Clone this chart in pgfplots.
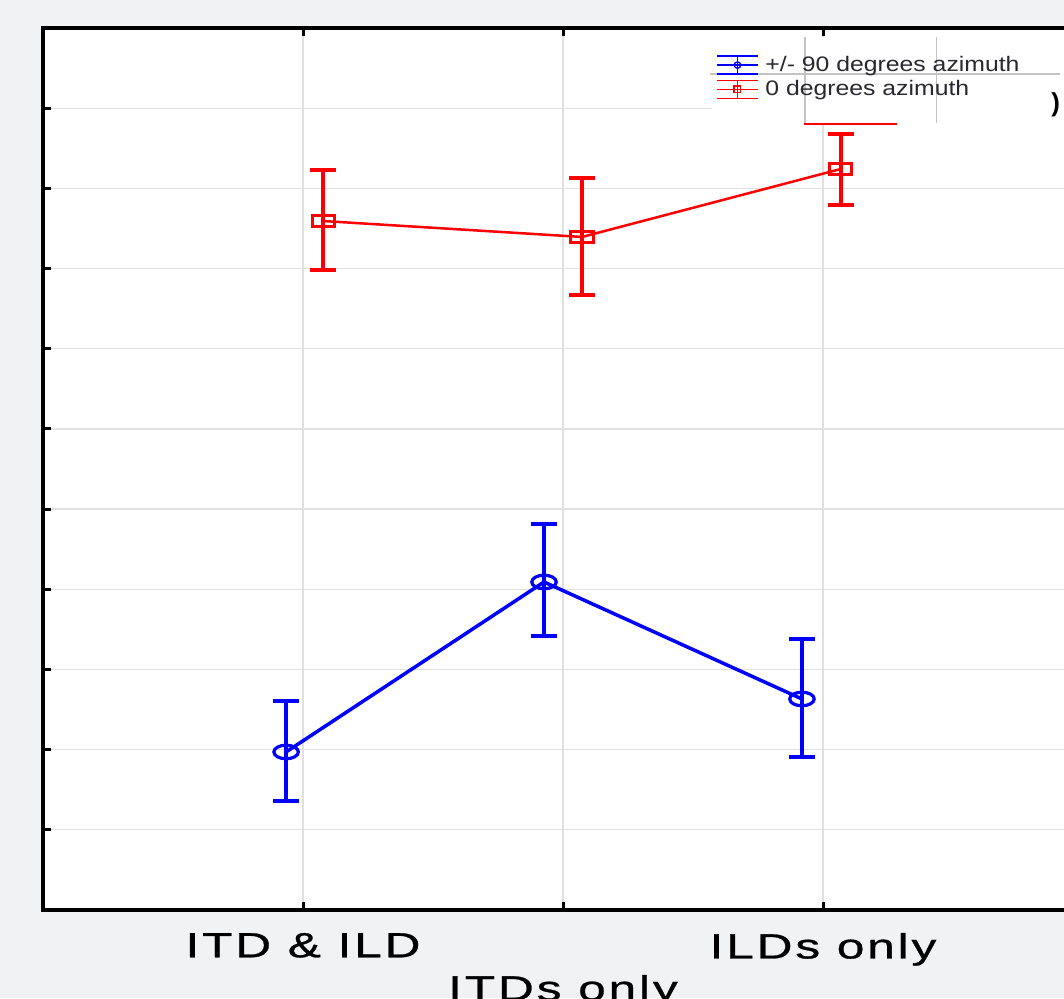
\documentclass[border=0pt]{standalone}
\usepackage{pgfplots}
\usepackage{pgfplotstable}
\pgfplotsset{compat=1.18}
\usepackage{fontspec}
\setmainfont{Liberation Sans}
\newfontfamily\tickfont[FakeStretch=1.42, FakeBold=0.8, LetterSpace=8]{Liberation Sans}
\newfontfamily\legfont[FakeStretch=1.18]{Liberation Sans}
\definecolor{bg}{RGB}{241,242,244}
\definecolor{gridc}{RGB}{224,224,224}
\definecolor{legtext}{RGB}{40,40,48}
\pgfplotstableread{
x y ep em
0.935 1.971 0.636 0.612
1.927 4.091 0.723 0.674
2.919 2.632 0.748 0.724
}\bluedata
\pgfplotstableread{
x y ep em
1.077 8.593 0.636 0.611
2.073 8.394 0.735 0.724
3.069 9.242 0.436 0.449
}\reddata
\begin{document}
\begin{tikzpicture}
\path[use as bounding box, fill=bg] (-21.5pt,-44pt) rectangle (510.5pt,455pt);
\clip (-21.5pt,-44pt) rectangle (510.5pt,455pt);
\begin{axis}[
  at={(0pt,0pt)}, anchor=south west,
  scale only axis, width=520pt, height=441pt,
  xmin=0, xmax=4, ymin=0, ymax=11,
  axis background/.style={fill=white},
  axis line style={line width=2pt, black},
  xtick={1,3}, xticklabels={ITD \& ILD, ILDs only},
  extra x ticks={2}, extra x tick labels={ITDs only},
  extra x tick style={grid=major, xticklabel style={yshift=-21pt}},
  xtick pos=both, ytick pos=left,
  tick align=inside,
  major tick length=4pt,
  tick style={line width=1.5pt, black},
  ytick={1,...,10}, yticklabels={},
  grid=major, major grid style={gridc, line width=0.6pt},
  xticklabel style={font=\tickfont\fontsize{17.5}{19}\selectfont, yshift=-8pt},
  legend style={at={(rel axis cs:0.647,0.971)}, anchor=north west, draw=none, fill=none,
    font=\legfont\fontsize{10.5}{12}\selectfont\color{legtext}, inner sep=0pt, row sep=1pt,
    nodes={inner sep=1pt}},
  legend cell align=left,
]
% overlay artifacts near legend
\fill[white] (axis cs:2.573,9.79) rectangle (axis cs:4,10.888);
\draw[gridc!70!gray, line width=0.6pt] (axis cs:2.931,9.815) -- (axis cs:2.931,10.888);
\draw[gridc!70!gray, line width=0.6pt] (axis cs:3.435,9.815) -- (axis cs:3.435,10.888);
\draw[gridc!70!gray, line width=0.6pt] (axis cs:2.565,10.427) -- (axis cs:3.912,10.427);
\draw[red, line width=0.6pt] (axis cs:2.927,9.803) -- (axis cs:3.285,9.803);
\node[font=\bfseries\fontsize{13}{14}\selectfont] at (axis cs:3.895,10.04) {)};

\addplot[forget plot, blue, line width=1.75pt, mark=o, mark size=3.4pt,
  mark options={xscale=1.8, line width=1.6pt, solid},
  error bars/.cd, y dir=both, y explicit, error mark=|,
  error mark options={mark size=6.5pt, line width=2pt, blue},
  error bar style={line width=2pt}]
  table[x=x, y=y, y error plus=ep, y error minus=em]{\bluedata};
\addplot[forget plot, red, line width=1.25pt, mark=square, mark size=2.9pt,
  mark options={xscale=1.9, line width=1.5pt, solid},
  error bars/.cd, y dir=both, y explicit, error mark=|,
  error mark options={mark size=6.5pt, line width=1.6pt, red},
  error bar style={line width=1.6pt}]
  table[x=x, y=y, y error plus=ep, y error minus=em]{\reddata};

\addlegendimage{legend image code/.code={
  \draw[blue, line width=0.7pt] (0pt,0pt) -- (20.5pt,0pt);
  \draw[blue, line width=0.7pt] (0pt,4.5pt) -- (20.5pt,4.5pt);
  \draw[blue, line width=0.7pt] (0pt,-4.5pt) -- (20.5pt,-4.5pt);
  \draw[blue, line width=0.7pt] (10.25pt,-4.5pt) -- (10.25pt,4.5pt);
  \draw[blue, line width=0.7pt] (10.25pt,0pt) circle (1.6pt);
  \path (23pt,0pt);
}}
\addlegendentry{+/- 90 degrees azimuth}
\addlegendimage{legend image code/.code={
  \draw[red, line width=0.7pt] (0pt,0pt) -- (20.5pt,0pt);
  \draw[red, line width=0.7pt] (0pt,4.5pt) -- (20.5pt,4.5pt);
  \draw[red, line width=0.7pt] (0pt,-4.5pt) -- (20.5pt,-4.5pt);
  \draw[red, line width=0.7pt] (10.25pt,-4.5pt) -- (10.25pt,4.5pt);
  \draw[red, line width=0.7pt] (8.6pt,-1.6pt) rectangle (11.9pt,1.6pt);
  \path (23pt,0pt);
}}
\addlegendentry{0 degrees azimuth}
\end{axis}
\end{tikzpicture}
\end{document}
